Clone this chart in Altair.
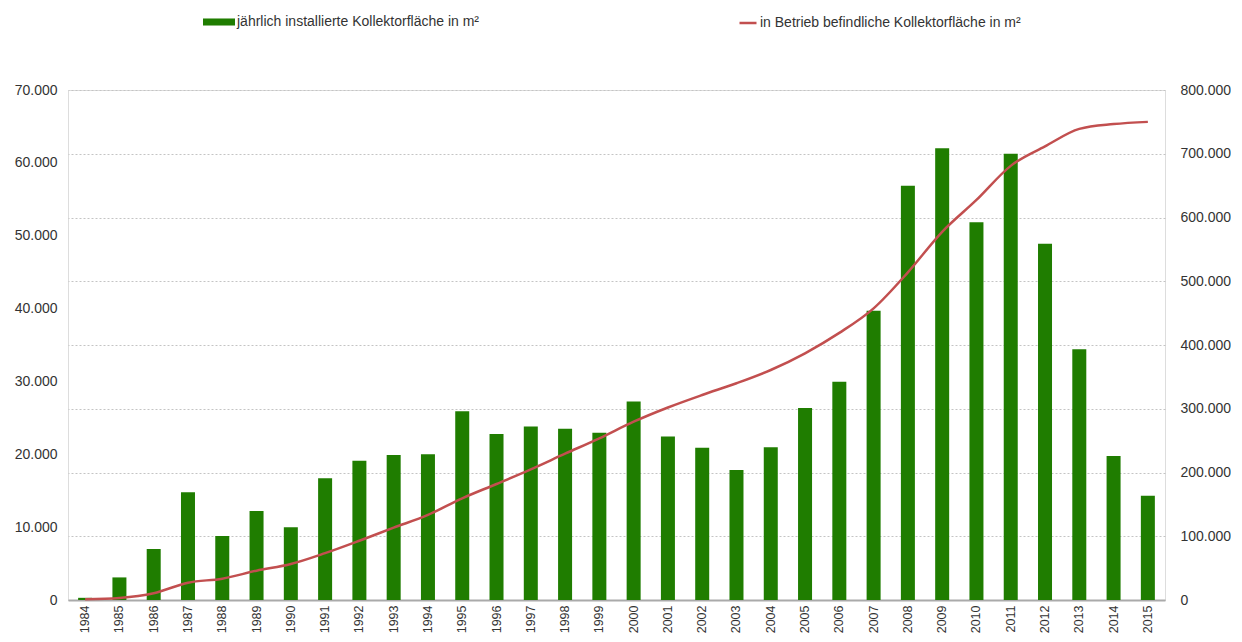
import altair as alt
import pandas as pd

years = [str(y) for y in range(1984, 2016)]

annual = [300, 3100, 7000, 14800, 8800, 12200, 10000, 16700, 19100, 19900,
          20000, 25900, 22800, 23800, 23500, 22950, 27250, 22450, 20900, 17850,
          20950, 26350, 29950, 39700, 56850, 62000, 51850, 61250, 48900, 34400,
          19750, 14300]

in_operation = [1000, 3100, 10500, 27200, 33500, 46000, 56500, 73500, 93000, 113500,
                133500, 159500, 182000, 205000, 229500, 253600, 279700, 302000, 321600, 340000,
                360800, 387000, 419000, 457500, 514000, 577500, 627500, 681000, 711500, 739000,
                746500, 750000]

label_bar = "jährlich installierte Kollektorfläche in m²"
label_line = "in Betrieb befindliche Kollektorfläche in m²"

left_ticks = list(range(0, 70001, 10000))
right_ticks = list(range(0, 800001, 100000))

GREEN = "#1f7d00"
RED = "#c24f4f"
FONT = "Liberation Sans"

df = pd.DataFrame({
    "Jahr": years,
    "jaehrlich": annual,
    "in_betrieb": in_operation,
    "s1": [label_bar] * len(years),
    "s2": [label_line] * len(years),
})

de_fmt = "replace(format(datum.value, ','), ',', '.')"

x_enc = alt.X(
    "Jahr:N", sort=None, title=None,
    scale=alt.Scale(paddingInner=0, paddingOuter=0),
    axis=alt.Axis(labelAngle=-90, labelFontSize=12.5, labelPadding=5, ticks=False,
                  domainColor="#aaaaaa", domainWidth=2, labelColor="#333333",
                  labelFont=FONT),
)

bars = alt.Chart(df).mark_bar(size=14).encode(
    x=x_enc,
    y=alt.Y("jaehrlich:Q", title=None,
            scale=alt.Scale(domain=[0, 70000], nice=False),
            axis=alt.Axis(orient="left", values=left_ticks, grid=False, domain=False,
                          ticks=False, labelExpr=de_fmt, labelPadding=11,
                          labelFontSize=14, labelColor="#333333", labelFont=FONT)),
    color=alt.Color("s1:N", scale=alt.Scale(domain=[label_bar], range=[GREEN]),
                    legend=alt.Legend(title=None, orient="none", legendX=135, legendY=-84,
                                      symbolType="M-1,-0.22H1V0.22H-1Z", symbolSize=1024,
                                      labelOffset=2, labelFontSize=14, labelFont=FONT,
                                      labelColor="#333333", symbolStrokeWidth=0,
                                      labelLimit=400)),
)

line = alt.Chart(df).mark_line(strokeWidth=2.5, interpolate="monotone").encode(
    x=alt.X("Jahr:N", sort=None),
    y=alt.Y("in_betrieb:Q", title=None,
            scale=alt.Scale(domain=[0, 800000], nice=False),
            axis=alt.Axis(orient="right", values=right_ticks, grid=True,
                          gridDash=[2, 2], gridColor="#c4c4c4", gridWidth=1,
                          domain=False, ticks=False, labelExpr=de_fmt, labelPadding=15,
                          labelFontSize=14, labelColor="#333333", labelFont=FONT)),
    stroke=alt.Stroke("s2:N", scale=alt.Scale(domain=[label_line], range=[RED]),
                      legend=alt.Legend(title=None, orient="none", legendX=670, legendY=-77,
                                        symbolType="stroke", symbolSize=289,
                                        symbolStrokeWidth=2.5, labelOffset=2,
                                        labelFontSize=14, labelFont=FONT,
                                        labelColor="#333333", labelLimit=400)),
)

chart = alt.layer(bars, line).resolve_scale(y="independent").properties(
    width=1097, height=510,
    autosize=alt.AutoSizeParams(type="none"),
    padding={"left": 60, "top": 82, "right": 66, "bottom": 33},
).configure_view(stroke=None).configure(font=FONT)

chart.save("out.html", embed_options={"renderer": "svg", "actions": False})
